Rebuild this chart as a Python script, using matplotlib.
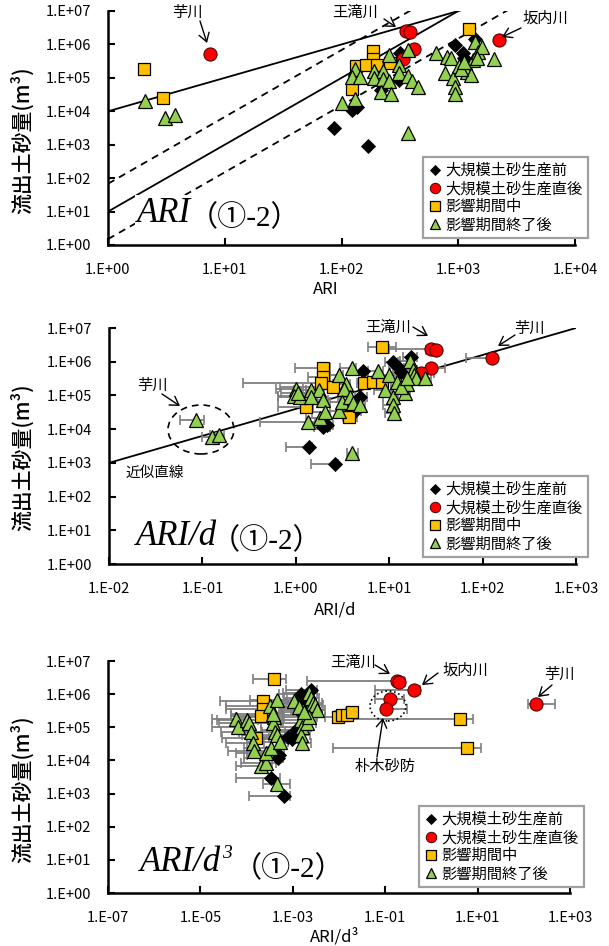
import numpy as np
import matplotlib
matplotlib.use('Agg')
import matplotlib.pyplot as plt
from matplotlib.lines import Line2D
from matplotlib.patches import Ellipse
from matplotlib.ticker import FixedLocator, NullLocator, FixedFormatter
from matplotlib.transforms import IdentityTransform

plt.rcParams['font.family'] = ['Noto Sans CJK JP', 'DejaVu Sans']

# ---------------- data ----------------
categories = ['大規模土砂生産前', '大規模土砂生産直後', '影響期間中', '影響期間終了後']
y_label = '流出土砂量(m³)'

# Panel 1 : ARI
ari_pre_x = [86, 167, 123, 136, 218, 309, 318, 940, 1096, 1110, 1400, 1180]
ari_pre_y = [3.1e3, 9.1e2, 1.1e4, 1.3e4, 4.4e4, 8.7e4, 5.5e5, 9.6e5, 5.6e5, 3.8e5, 1.5e6, 2.4e5]
ari_post_x = [7.47, 355, 389, 414, 334, 2240]
ari_post_y = [5.0e5, 2.5e6, 2.3e6, 7.1e5, 3.6e5, 1.35e6]
ari_dur_x = [2.05, 2.98, 185, 185, 133, 163, 200, 261, 122, 1240]
ari_dur_y = [1.8e5, 2.45e4, 6.5e5, 3.6e5, 2.26e5, 2.5e5, 2.5e5, 2.7e5, 4.7e4, 2.9e6]
ari_aft_x = [2.07, 3.09, 3.74, 100, 131, 131, 123, 144, 191, 228, 188, 228, 255, 255, 219, 265,
             309, 309, 369, 374, 404, 454, 369, 641, 776, 807, 871, 906, 940, 940, 1017, 1140,
             1183, 1280, 1330, 1400, 1490, 1610, 1435, 2030, 1050, 1120]
ari_aft_y = [2.0e4, 6.5e3, 7.8e3, 1.74e4, 2.3e4, 1.86e5, 1.05e5, 1.05e5, 1.6e5, 1.6e5, 1.0e5, 9.3e4,
             4.8e5, 7.8e4, 3.9e4, 3.2e4, 2.4e5, 1.36e5, 6.8e5, 1.1e5, 7.8e4, 5.5e4, 2.2e3, 5.4e5,
             1.36e5, 4.3e5, 3.8e5, 9.8e4, 5.5e4, 3.3e4, 2.2e5, 2.7e5, 1.5e5, 1.2e5, 3.4e5, 1.2e6,
             6.0e5, 8.5e5, 3.8e5, 3.6e5, 1.9e5, 3.0e5]
# reference lines of panel 1: y = coef * ARI ** power
ari_line_coef = [1e4, 10, 68, 1.5]
ari_line_pow = [1, 2, 2, 2]
ari_line_style = ['-', '-', '--', '--']

# Panel 2 : ARI/d
ard_pre_x = [1.37, 2.61, 1.95, 2.15, 4.87, 4.3, 5.2, 11.0, 17.0, 12.6, 13.5, 3.7]
ard_pre_y = [2.9e3, 9.1e2, 1.18e4, 1.32e4, 8.7e4, 3.4e4, 5.2e5, 9.8e5, 1.4e6, 6.3e5, 5.0e5, 4.4e4]
ard_pre_lo = [0.78, 1.47, 1.55, 1.7, 4.0, 3.5, 4.3, 9.0, 14.0, 10.0, 11.0, 3.0]
ard_pre_hi = [1.5, 2.8, 2.3, 2.5, 5.8, 5.0, 6.0, 12.5, 20.0, 14.5, 15.5, 4.3]
ard_post_x = [28, 31.6, 126, 28, 22]
ard_post_y = [2.4e6, 2.2e6, 1.3e6, 6.7e5, 4.5e5]
ard_post_lo = [10, 25, 66, 17.8, 15]
ard_post_hi = [31, 34, 140, 40, 30]
ard_dur_x = [8.3, 1.97, 1.97, 1.85, 2.5, 1.29, 3.74, 5.4, 6.65, 8.3]
ard_dur_y = [2.8e6, 6.3e5, 3.6e5, 2.3e5, 1.74e5, 4.6e4, 2.35e4, 2.3e5, 2.45e5, 2.45e5]
ard_dur_lo = [6.0, 0.98, 1.36, 0.27, 0.68, 0.65, 3.2, 4.5, 5.6, 7.0]
ard_dur_hi = [11.8, 2.3, 2.3, 2.2, 2.9, 1.54, 4.5, 6.3, 7.7, 9.5]
ard_aft_x = [0.0855, 0.126, 0.152, 1.0, 0.95, 1.1, 1.47, 1.78, 1.47, 1.95, 1.36, 1.82, 2.05, 2.93,
             2.87, 3.41, 3.3, 3.16, 3.8, 4.06, 4.87, 3.95, 4.0, 7.5, 10, 9.1, 11, 11, 11.2, 14.7,
             15.5, 16.6, 17.8, 18.6, 19.5, 24, 12, 13.3, 15.5, 1.05]
ard_aft_y = [1.86e4, 5.96e3, 6.7e3, 1.6e5, 9.5e4, 9.1e4, 1.41e5, 1.41e5, 9.1e4, 7.2e4, 1.66e4, 2.1e4,
             3.2e4, 3.5e4, 4.0e5, 2.2e5, 1.5e5, 6.5e4, 8.7e4, 5.8e4, 5.2e4, 6.3e5, 2.0e3, 5.4e5,
             4.0e5, 1.45e5, 9.1e4, 5.1e4, 3.1e4, 1.15e5, 2.2e5, 1.05e6, 5.6e5, 4.0e5, 3.2e5, 3.4e5,
             2.5e5, 1.8e5, 3.4e5, 1.2e5]
ard_aft_lo = [0.058, 0.098, 0.12, 0.62, 0.65, 0.65, 0.95, 1.3, 1.1, 1.4, 0.41, 1.3, 1.5, 2.1,
              2.0, 2.5, 2.4, 2.3, 2.8, 3.0, 3.8, 3.0, 3.5, 5.5, 7.0, 6.8, 8.5, 8.5, 9.0, 11,
              12, 13, 14, 14.5, 15, 19, 9.5, 10.5, 12, 0.7]
ard_aft_hi = [0.104, 0.14, 0.17, 1.2, 1.1, 1.25, 1.7, 2.0, 1.7, 2.2, 1.6, 2.0, 2.3, 3.3,
              3.2, 3.8, 3.7, 3.6, 4.3, 4.6, 5.5, 4.4, 4.6, 8.5, 11.5, 10.5, 12.5, 12.5, 12.8, 16.5,
              17.5, 18.5, 20, 21, 22, 28, 13.5, 15, 17.5, 1.3]
# regression line of panel 2: y = coef * (ARI/d) ** power
ard_line_coef = 39811
ard_line_pow = 0.8

# Panel 3 : ARI/d^3
a3_pre_x = [3.37e-4, 6.4e-4, 5.06e-4, 4.8e-4, 9.4e-4, 7.8e-4, 1.53e-3, 1.38e-3, 2.48e-3, 2.24e-3, 1.15e-3, 1.7e-3]
a3_pre_y = [2.95e3, 8.7e2, 1.5e4, 1.17e4, 4.4e4, 5.2e4, 1.0e6, 6.7e5, 1.35e6, 5.3e5, 8.3e4, 2.4e5]
a3_pre_lo = [5.9e-5, 1.1e-4, 1.0e-4, 9e-5, 1.6e-4, 1.4e-4, 5.0e-4, 4.5e-4, 7.0e-4, 6.5e-4, 2.0e-4, 5.0e-4]
a3_pre_hi = [5.2e-4, 8.6e-4, 6.5e-4, 6.2e-4, 1.3e-3, 1.1e-3, 2.2e-3, 2.0e-3, 3.4e-3, 3.1e-3, 1.6e-3, 2.4e-3]
a3_post_x = [0.176, 0.202, 0.42, 0.13, 0.105, 182]
a3_post_y = [2.5e6, 2.3e6, 1.35e6, 7.1e5, 3.5e5, 5.0e5]
a3_post_lo = [2.0e-3, 0.16, 0.06, 0.06, 0.085, 123]
a3_post_hi = [0.25, 0.27, 0.56, 0.26, 0.29, 480]
a3_dur_x = [3.9e-4, 2.3e-4, 2.3e-4, 2.1e-4, 1.6e-4, 9.5e-3, 1.17e-2, 1.5e-2, 1.9e-2, 4.15, 6.0]
a3_dur_y = [2.8e6, 6.3e5, 3.5e5, 2.2e5, 4.7e4, 2.1e5, 2.3e5, 2.3e5, 2.9e5, 1.8e5, 2.45e4]
a3_dur_lo = [1.4e-4, 2.7e-5, 3.5e-5, 4.5e-5, 3.0e-5, 5.0e-3, 8.0e-3, 1.1e-2, 1.4e-2, 7.6e-3, 7.4e-3]
a3_dur_hi = [7.0e-4, 4.5e-4, 4.0e-4, 3.8e-4, 3.0e-4, 1.3e-2, 1.6e-2, 2.0e-2, 2.6e-2, 8.1, 12.0]
a3_aft_x = [6.0e-5, 6.5e-5, 1.0e-4, 1.12e-4, 1.23e-4, 1.35e-4, 1.48e-4, 2.1e-4, 2.6e-4, 2.6e-4,
            3.4e-4, 4.0e-4, 3.8e-4, 4.2e-4, 4.5e-4, 3.2e-4, 4.6e-4, 4.6e-4, 5.2e-4, 3.8e-4,
            1.04e-3, 1.38e-3, 1.51e-3, 1.62e-3, 1.51e-3, 1.62e-3, 2.04e-3, 2.24e-3, 2.24e-3, 2.45e-3,
            2.75e-3, 3.0e-3, 3.3e-3, 2.04e-3, 2.24e-3, 1.78e-3]
a3_aft_y = [1.74e5, 1.05e5, 1.66e5, 1.32e5, 7.4e4, 3.3e4, 1.86e4, 6.6e3, 8.3e3, 1.66e4,
            2.3e4, 2.1e5, 1.32e5, 7.4e4, 5.9e4, 4.4e5, 6.6e5, 2.0e3, 3.7e4, 2.6e5,
            6.0e5, 4.0e5, 1.66e5, 1.05e5, 5.9e4, 3.3e4, 3.3e5, 1.07e6, 3.7e5, 7.6e5,
            5.4e5, 4.7e5, 3.3e5, 1.32e5, 2.1e5, 2.8e5]
a3_aft_lo = [1.8e-5, 1.8e-5, 2.3e-5, 2.5e-5, 2.8e-5, 3.5e-5, 4.0e-5, 6.0e-5, 7.5e-5, 6.0e-5,
             9.0e-5, 6.0e-5, 5.0e-5, 7.0e-5, 8.0e-5, 3.5e-5, 1.2e-4, 2.3e-4, 1.0e-4, 4.5e-5,
             3.0e-4, 3.5e-4, 4.0e-4, 4.5e-4, 4.0e-4, 4.5e-4, 5.5e-4, 6.0e-4, 6.0e-4, 6.5e-4,
             7.0e-4, 8.0e-4, 9.0e-4, 5.5e-4, 6.0e-4, 5.0e-4]
a3_aft_hi = [1.1e-4, 1.2e-4, 1.8e-4, 2.0e-4, 2.2e-4, 2.4e-4, 2.7e-4, 3.6e-4, 4.3e-4, 4.5e-4,
             5.5e-4, 6.5e-4, 6.2e-4, 6.8e-4, 7.2e-4, 5.5e-4, 7.5e-4, 8.5e-4, 8.0e-4, 6.0e-4,
             1.6e-3, 2.1e-3, 2.3e-3, 2.5e-3, 2.3e-3, 2.5e-3, 3.1e-3, 3.4e-3, 3.4e-3, 3.7e-3,
             4.2e-3, 4.6e-3, 5.0e-3, 3.1e-3, 3.4e-3, 2.7e-3]

x_labels = ['ARI', 'ARI/d', 'ARI/d³']
panel_titles = ['ARI', 'ARI/d', 'ARI/d']
panel_sups = ['', '', '3']
panel_suffix = '（①-2）'

# ---------------- figure ----------------
W, H = 609, 946
fig = plt.figure(figsize=(W / 100, H / 100), dpi=100)
fig.patch.set_facecolor('white')


def fx(px):
    return px / W


def fy(py):
    return 1 - py / H


def add_ax(l, t, r, b):
    return fig.add_axes([fx(l), fy(b), (r - l) / W, (b - t) / H])


STYLES = [
    dict(marker='D', ms=7.0, mfc='black', mec='black', mew=0.6, ls='none'),
    dict(marker='o', ms=9.5, mfc='#ff0000', mec='#400000', mew=0.7, ls='none'),
    dict(marker='s', ms=9.0, mfc='#ffc000', mec='black', mew=0.9, ls='none'),
    dict(marker='^', ms=9.5, mfc='#92d050', mec='black', mew=0.9, ls='none'),
]
LEG_MS = [5.5, 7.5, 6.5, 7.0]

TICK_FONT = 10.5
SERIF = ['Liberation Serif', 'DejaVu Serif']


def fmt(e):
    return '1.E%+03d' % e


def setup_axis(ax, xexp):
    ax.set_xscale('log')
    ax.set_yscale('log')
    ax.set_xlim(10.0 ** xexp[0], 10.0 ** xexp[-1])
    ax.set_ylim(1, 1e7)
    ax.xaxis.set_major_locator(FixedLocator([10.0 ** e for e in xexp]))
    ax.xaxis.set_major_formatter(FixedFormatter([fmt(e) for e in xexp]))
    yexp = list(range(0, 8))
    ax.yaxis.set_major_locator(FixedLocator([10.0 ** e for e in yexp]))
    ax.yaxis.set_major_formatter(FixedFormatter([fmt(e) for e in yexp]))
    ax.xaxis.set_minor_locator(NullLocator())
    ax.yaxis.set_minor_locator(NullLocator())
    for s in ['top', 'right']:
        ax.spines[s].set_visible(False)
    for s in ['left', 'bottom']:
        ax.spines[s].set_linewidth(1.8)
    ax.tick_params(axis='both', direction='in', length=5, width=1.5, labelsize=TICK_FONT)
    ax.tick_params(axis='y', pad=12)
    ax.tick_params(axis='x', pad=13)
    ax.patch.set_alpha(0)


def draw_err(ax, x, y, lo, hi):
    x = np.array(x); lo = np.array(lo); hi = np.array(hi)
    ax.errorbar(x, y, xerr=[x - lo, hi - x], fmt='none', ecolor='#7f7f7f',
                elinewidth=1.3, capsize=3.5, capthick=1.2, zorder=2)


def draw_points(ax, series):
    for i, (x, y) in enumerate(series):
        ax.plot(x, y, zorder=3 + i, clip_on=False, **STYLES[i])


def add_legend(ax, left_px, top_px):
    handles = []
    for i in range(4):
        st = dict(STYLES[i]); st['ms'] = LEG_MS[i]
        handles.append(Line2D([], [], **st))
    leg = ax.legend(handles, categories, loc='upper left',
                    bbox_to_anchor=(fx(left_px), fy(top_px)), bbox_transform=fig.transFigure,
                    borderaxespad=0, fontsize=11, frameon=True, fancybox=False,
                    handlelength=0.9, handletextpad=0.25, labelspacing=0.08,
                    borderpad=0.32, markerscale=1.0)
    fr = leg.get_frame()
    fr.set_edgecolor('#a0a0a0'); fr.set_linewidth(1.6); fr.set_alpha(1)
    leg.set_zorder(20)


def panel_label(ax, px, py, main, sup, gap, lift, white=False):
    t = fig.text(fx(px), fy(py), main, family=SERIF,
                 style='italic', ha='left', va='baseline', fontsize=25, zorder=15)
    bb = dict(facecolor='white', edgecolor='none', pad=1.5)
    if white:
        t.set_bbox(bb)
    anchor = t
    rise = 0
    if sup:
        rise = 15
        anchor = ax.annotate(sup, xy=(1, 0), xycoords=t, xytext=(0.5, rise),
                             textcoords='offset points', ha='left', va='baseline',
                             family=SERIF, style='italic', fontsize=14, zorder=15,
                             annotation_clip=False)
    ann = ax.annotate(panel_suffix, xy=(1, 0), xycoords=anchor,
                      xytext=(gap, -rise + lift),
                      textcoords='offset points', ha='left', va='baseline',
                      family=['Liberation Serif', 'Noto Sans CJK JP'], fontsize=21, zorder=15,
                      annotation_clip=False)
    if white:
        ann.set_bbox(bb)


def note(px, py, s, size=11):
    fig.text(fx(px), fy(py), s, ha='center', va='center', fontsize=size)


def arrow(x0, y0, x1, y1):
    fig.add_artist(matplotlib.patches.FancyArrowPatch(
        (fx(x0), fy(y0)), (fx(x1), fy(y1)), transform=fig.transFigure,
        arrowstyle='->,head_length=4,head_width=2.5', lw=1.0, color='black',
        shrinkA=0, shrinkB=0, mutation_scale=1.5))


def ellipse(cx, cy, w, h, ls):
    e = Ellipse((cx, H - cy), w, h, transform=IdentityTransform(), fill=False,
                edgecolor='black', lw=1.2, ls=ls)
    fig.add_artist(e)


def ylab(py):
    fig.text(fx(22), fy(py), y_label, rotation=90, ha='center', va='center',
             fontsize=15, fontweight='medium')


# ---------- Panel 1 ----------
ax1 = add_ax(108, 11, 575, 245)
setup_axis(ax1, [0, 1, 2, 3, 4])
xx = np.logspace(0, 4, 200)
for c, p, s in zip(ari_line_coef, ari_line_pow, ari_line_style):
    ax1.plot(xx, c * xx ** p, color='black', lw=1.3, ls=s if s == '-' else (0, (4, 3)), zorder=1)
draw_points(ax1, [(ari_pre_x, ari_pre_y), (ari_post_x, ari_post_y),
                  (ari_dur_x, ari_dur_y), (ari_aft_x, ari_aft_y)])
add_legend(ax1, 423, 157)
panel_label(ax1, 137, 222, panel_titles[0], panel_sups[0], -1.5, 3, white=True)
fig.text(fx(326), fy(289), x_labels[0], ha='center', va='center', fontsize=12)
ylab(140)
note(187, 12, '芋川'); arrow(200, 21, 207, 43)
note(355, 12, '王滝川'); arrow(384, 19, 396, 27)
note(545, 18, '坂内川'); arrow(521, 28, 502, 37)

# ---------- Panel 2 ----------
ax2 = add_ax(109, 328, 576, 564)
setup_axis(ax2, [-2, -1, 0, 1, 2, 3])
xx = np.logspace(-2, 3, 200)
ax2.plot(xx, ard_line_coef * xx ** ard_line_pow, color='black', lw=1.3, zorder=1)
draw_err(ax2, ard_pre_x, ard_pre_y, ard_pre_lo, ard_pre_hi)
draw_err(ax2, ard_post_x, ard_post_y, ard_post_lo, ard_post_hi)
draw_err(ax2, ard_dur_x, ard_dur_y, ard_dur_lo, ard_dur_hi)
draw_err(ax2, ard_aft_x, ard_aft_y, ard_aft_lo, ard_aft_hi)
draw_points(ax2, [(ard_pre_x, ard_pre_y), (ard_post_x, ard_post_y),
                  (ard_dur_x, ard_dur_y), (ard_aft_x, ard_aft_y)])
add_legend(ax2, 423, 476)
panel_label(ax2, 136, 545, panel_titles[1], panel_sups[1], -4.5, 3)
fig.text(fx(335), fy(610), x_labels[1], ha='center', va='center', fontsize=12)
ylab(457)
note(388, 327, '王滝川'); arrow(413, 327, 428, 336)
note(529, 328, '芋川'); arrow(515, 335, 498, 346)
note(152, 385, '芋川'); arrow(162, 394, 180, 406)
ellipse(201, 429.5, 66, 49, (0, (4, 3)))
fig.text(fx(155), fy(473), '近似直線', ha='center', va='center', fontsize=10.5)

# ---------- Panel 3 ----------
ax3 = add_ax(108, 661, 570, 893)
setup_axis(ax3, [-7, -5, -3, -1, 1, 3])
draw_err(ax3, a3_pre_x, a3_pre_y, a3_pre_lo, a3_pre_hi)
draw_err(ax3, a3_post_x, a3_post_y, a3_post_lo, a3_post_hi)
draw_err(ax3, a3_dur_x, a3_dur_y, a3_dur_lo, a3_dur_hi)
draw_err(ax3, a3_aft_x, a3_aft_y, a3_aft_lo, a3_aft_hi)
draw_points(ax3, [(a3_pre_x, a3_pre_y), (a3_post_x, a3_post_y),
                  (a3_dur_x, a3_dur_y), (a3_aft_x, a3_aft_y)])
add_legend(ax3, 419, 806)
panel_label(ax3, 140, 871, panel_titles[2], panel_sups[2], 0.5, 4)
fig.text(fx(335), fy(937), x_labels[2], ha='center', va='center', fontsize=12)
ylab(789)
note(353, 662, '王滝川'); arrow(375, 665, 390, 674)
note(465, 670, '坂内川'); arrow(438, 673, 422, 685)
note(559, 674, '芋川'); arrow(552, 685, 538, 697)
ellipse(388, 706, 36, 30, ':')
note(385, 766, '朴木砂防'); arrow(377, 757, 383, 718)

fig.savefig('out.png', dpi=100, facecolor='white')
